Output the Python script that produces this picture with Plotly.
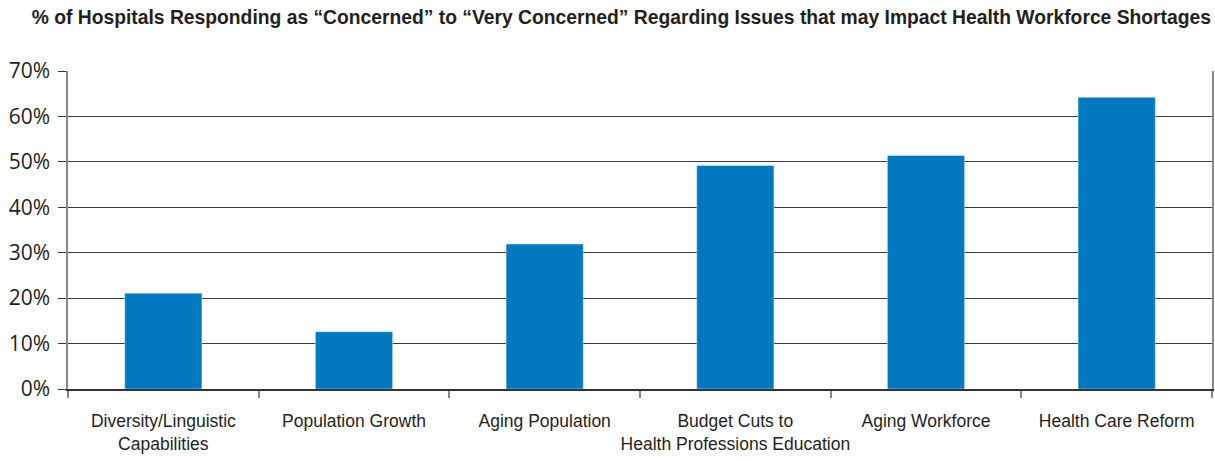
import plotly.graph_objects as go

categories = ["Diversity/Linguistic<br>Capabilities", "Population Growth", "Aging Population",
              "Budget Cuts to<br>Health Professions Education", "Aging Workforce", "Health Care Reform"]
values = [21.1, 12.6, 31.9, 49.2, 51.4, 64.2]
y_ticks = [0, 10, 20, 30, 40, 50, 60, 70]
y_labels = [f"{v}%" for v in y_ticks]
title = "% of Hospitals Responding as \u201cConcerned\u201d to \u201cVery Concerned\u201d Regarding Issues that may Impact Health Workforce Shortages"

COND = "Liberation Sans, Arial, sans-serif"

fig = go.Figure(go.Bar(x=categories, y=values, marker_color="#0079c1", width=0.405))

fig.update_layout(
    width=1215, height=461,
    margin=dict(l=68, r=3, t=71, b=72, autoexpand=False),
    plot_bgcolor="white", paper_bgcolor="white",
    showlegend=False,
    title=dict(text=f"<b>{title}</b>", x=1211 / 1215, xanchor="right", xref="container",
               y=1 - 17 / 461, yanchor="middle", yref="container",
               font=dict(family=COND, size=19.3, color="#231f20")),
)
fig.update_xaxes(
    tickson="boundaries", ticks="outside", ticklen=7, tickcolor="#888", tickwidth=1.5,
    showline=True, linecolor="#333", linewidth=1.5,
    tickangle=0, automargin=False, ticklabelstandoff=15,
    tickfont=dict(family=COND, size=17.5, color="#231f20"),
    showgrid=False,
)
fig.update_yaxes(
    range=[0, 70], tickvals=y_ticks, ticktext=y_labels, automargin=False,
    showgrid=True, gridcolor="#3a3a3a", gridwidth=1.4,
    showline=True, mirror=True, linecolor="#888", linewidth=1.5,
    ticks="outside", ticklen=8, tickcolor="#3a3a3a", tickwidth=1.4,
    ticklabelstandoff=4,
    tickfont=dict(family="Open Sans, sans-serif", size=21, color="#231f20"),
    zeroline=False,
)
fig.write_html("out.html", config={"displayModeBar": False},
               post_script="document.body.style.margin='0';document.body.style.overflow='hidden';")
